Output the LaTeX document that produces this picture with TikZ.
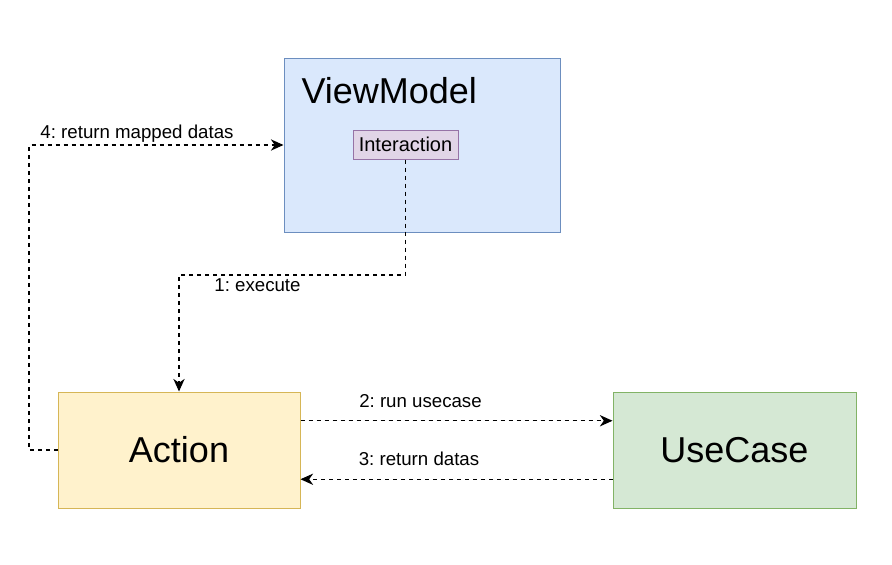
\documentclass[tikz,border=0pt]{standalone}
\usepackage{fontspec}
\setmainfont{Liberation Sans}
\usetikzlibrary{arrows.meta,calc}
\definecolor{vmfill}{HTML}{DAE8FC}
\definecolor{vmline}{HTML}{6C8EBF}
\definecolor{itfill}{HTML}{E1D5E7}
\definecolor{itline}{HTML}{9673A6}
\definecolor{acfill}{HTML}{FFF2CC}
\definecolor{acline}{HTML}{D6B656}
\definecolor{ucfill}{HTML}{D5E8D4}
\definecolor{ucline}{HTML}{82B366}
\tikzset{every picture/.style={line width=0.75pt}}
\frenchspacing
\begin{document}
\begin{tikzpicture}[x=0.75pt,y=-0.75pt,>={Stealth[length=9.5pt,width=8.5pt,inset=3pt]},
	box/.style={draw,inner sep=0pt,font=\fontsize{27}{30}\selectfont},
	flow/.style={line width=0.8pt,dash pattern=on 3pt off 3pt},
	lbl/.style={anchor=base,inner sep=0pt,font=\fontsize{14}{16}\selectfont}]
	\useasboundingbox (0,0) rectangle (892,564);
	%Khung ViewModel
	\node[box,fill=vmfill,draw=vmline,minimum width=207pt,minimum height=130.5pt] (vm) at (422,145) {};
	\node[anchor=base west,inner sep=0pt,font=\fontsize{27}{30}\selectfont] (vmtitle) at (301,103) {ViewModel};
	\node[box,fill=itfill,draw=itline,minimum width=78.75pt,minimum height=21.75pt,font=\fontsize{15}{17}\selectfont] (it) at (405.5,144.5) {Interaction};
	%Khung Action, UseCase
	\node[box,fill=acfill,draw=acline,minimum width=181.5pt,minimum height=87pt] (act) at (179,450) {Action};
	\node[box,fill=ucfill,draw=ucline,minimum width=182.25pt,minimum height=87pt] (uc) at (734.5,450) {UseCase};
	%Mui ten 1
	\coordinate (bend1) at (179,275);
	\draw[flow,->] (it.south) |- (bend1) -- (act.north);
	\node[lbl] (lexec) at (257.5,291) {1: execute};
	%Mui ten 2,3
	\draw[flow,->] ($(act.north east)!0.25!(act.south east)$) -- ($(uc.north west)!0.25!(uc.south west)$);
	\node[lbl] (lrun) at (420.5,407) {2: run usecase};
	\draw[flow,->] ($(uc.north west)!0.75!(uc.south west)$) -- ($(act.north east)!0.75!(act.south east)$);
	\node[lbl] (lret) at (419,465) {3: return datas};
	%Mui ten 4
	\coordinate (bend4) at (29,145);
	\draw[flow,->] (act.west) -| (bend4) -- (vm.west);
	\node[lbl] (lmap) at (137,138) {4: return mapped datas};
\end{tikzpicture}
\end{document}
